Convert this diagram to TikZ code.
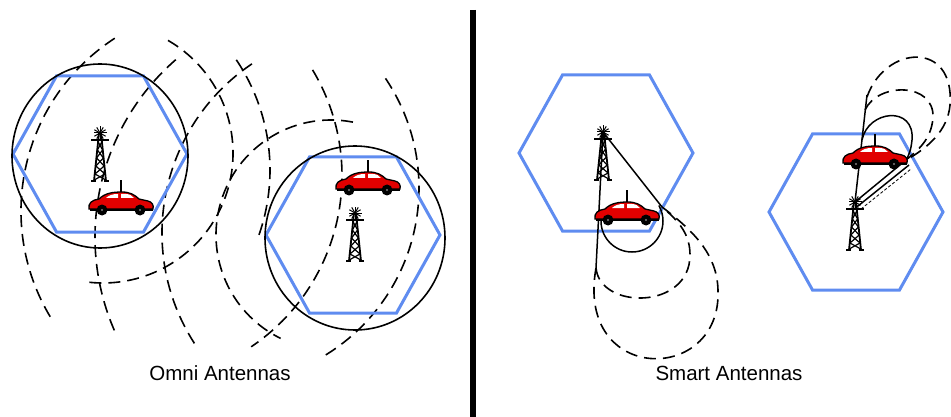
\documentclass[tikz,border=0pt]{standalone}
\usepackage{fontspec}
\setmainfont{Liberation Sans}
\usepackage{tikz}
\usetikzlibrary{calc}
\definecolor{cellblue}{RGB}{95,140,240}
\definecolor{carred}{RGB}{225,0,0}
\tikzstyle{hexline} = [cellblue, line width=3pt, line join=miter]
\tikzstyle{rangeline} = [black, line width=1.6pt]
\tikzstyle{wave} = [black, line width=1.6pt, dash pattern=on 12pt off 7pt]
\tikzstyle{beam} = [black, line width=1.5pt]
\tikzstyle{caption} = [font=\fontsize{20.5}{24}\selectfont]

\tikzset{
  cell/.pic={
    \draw[hexline] (87,0) -- (43.5,-78) -- (-43.5,-78) -- (-87,0) -- (-43.5,78) -- (43.5,78) -- cycle;
  },
  tower/.pic={
    % star on top, cross bar and lattice mast
    \foreach \a in {0,30,...,330}
      \draw[line width=1pt] (0,0) -- (\a:6.5pt);
    \draw[line width=1.3pt] (-9,7) -- (9,7);
    \draw[line width=1.8pt] (-1,0) -- (-6,48) (1,0) -- (6,48);
    \draw[line width=1.2pt] (-1.8,9) -- (2.6,17) -- (-3.4,25) -- (4.2,33) -- (-5,41) -- (5.8,47);
    \draw[line width=1.2pt] (1.8,9) -- (-2.6,17) -- (3.4,25) -- (-4.2,33) -- (5,41) -- (-5.8,47);
    \draw[line width=1.3pt] (-9,48) -- (-4,48) (4,48) -- (9,48);
  },
  car/.pic={
    \draw[line width=2.6pt] (0,-10) -- (0,-23);
    \filldraw[fill=carred, draw=black, line width=1.3pt]
      (-32,6) .. controls (-33,0) and (-29,-3) .. (-22,-4)
      .. controls (-16,-10) and (-8,-11) .. (1,-11)
      .. controls (9,-11) and (14,-8) .. (18,-4)
      -- (27,-2) .. controls (31,-1) and (33,2) .. (32,6) -- cycle;
    \fill[white] (-15,-5) .. controls (-12,-8) and (-8,-9) .. (-3,-9) -- (-3,-5) -- cycle;
    \fill[white] (0,-9) -- (5,-9) .. controls (9,-9) and (11,-7) .. (13,-5) -- (0,-5) -- cycle;
    \draw[line width=2.4pt] (-31,7) -- (32,7);
    \fill (-19,7) circle[radius=5.5pt] (19,7) circle[radius=5.5pt];
    \fill[gray] (-19,7) circle[radius=1.2pt] (19,7) circle[radius=1.2pt];
  }
}

\begin{document}
\begin{tikzpicture}[x=1pt, y=-1pt]
\useasboundingbox (0,0) rectangle (951,417);

% omni antennas: wave fronts
\foreach \cx/\cy/\r/\a/\b in {227/211/206pt/123/211, 103/153/130pt/60/-96, 73/170/197pt/34/-20,
    136/176/206pt/31/-56, 223/188/196pt/34/-59, 330/237/235pt/131/205,
    366/233/204pt/124/214, 331/235/115pt/79/244}
  \draw[wave] (\cx,\cy) ++(\a:\r) arc[start angle=\a, end angle=\b, radius=\r];

\pic at (100,154) {cell};
\pic at (353,235) {cell};
\draw[rangeline] (100,156) ellipse [x radius=88pt, y radius=92pt];
\draw[rangeline] (355,238) ellipse [x radius=90pt, y radius=92pt];

\coordinate (t1) at (100,133);
\coordinate (t2) at (355,213);
\pic at (t1) {tower};
\pic at (t2) {tower};
\pic at (121,203) {car};
\pic at (368,183) {car};

\node[caption] (omnilabel) at (220,373) {Omni Antennas};

% divider
\draw[line width=5.5pt] (473,10) -- (473,417);

% smart antennas
\pic at (606,153) {cell};
\pic at (856,212) {cell};

\coordinate (t3) at (603,132);
\coordinate (c3f) at (662,207);
\draw[beam] (t3) -- (c3f);
\draw[beam] (t3) -- (596,268);
\draw[beam] (601,221) arc[start angle=180, end angle=390, radius=31pt];
\draw[wave] (596,268) .. controls (600,310) and (690,310) .. (690,255)
  .. controls (690,235) and (680,222) .. (c3f);
\draw[wave] (596,268) .. controls (575,385) and (722,385) .. (718,290)
  .. controls (717,255) and (695,232) .. (c3f);

\coordinate (t4) at (855,202);
\coordinate (c4f) at (906,160);
\draw[beam] (t4) -- (867,95);
\draw[beam] (862,140) .. controls (868,110) and (915,105) .. (912,140)
  .. controls (911,150) and (909,155) .. (c4f);
\draw[beam] (t4) -- (c4f);
\draw[beam] ($(t4)+(3,4)$) -- ($(c4f)+(3,5)$);
\draw[black, line width=0.8pt, dash pattern=on 3pt off 2pt] ($(t4)+(6,7)$) -- ($(c4f)+(5,9)$);
\draw[wave] (865,110) .. controls (878,82) and (935,82) .. (933,118)
  .. controls (931,140) and (918,150) .. (c4f);
\draw[wave] (867,97) .. controls (885,45) and (955,40) .. (950,105)
  .. controls (948,130) and (928,148) .. (c4f);

\pic at (t3) {tower};
\pic at (t4) {tower};
\pic at (627,213) {car};
\pic at (875,157) {car};

\node[caption] (smartlabel) at (729,373) {Smart Antennas};
\end{tikzpicture}
\end{document}
